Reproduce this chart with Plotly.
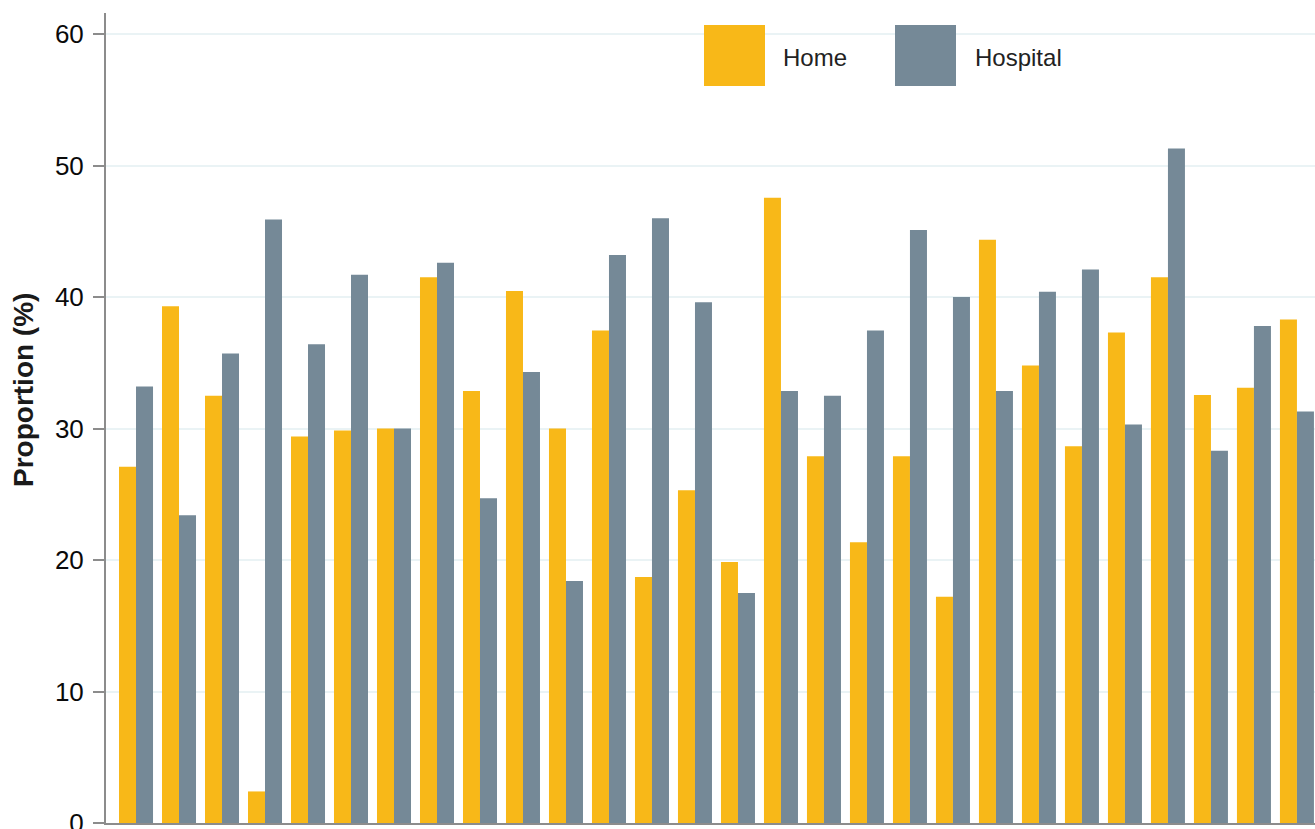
import plotly.graph_objects as go

# Proportion of deaths by place, 28 groups
groups = list(range(1, 29))
home = [27.1, 39.3, 32.5, 2.4, 29.4, 29.85, 30.0, 41.5, 32.85, 40.45,
        30.0, 37.45, 18.7, 25.3, 19.85, 47.55, 27.9, 21.35, 27.9, 17.2,
        44.35, 34.8, 28.65, 37.3, 41.5, 32.55, 33.1, 38.3]
hospital = [33.2, 23.4, 35.7, 45.9, 36.4, 41.7, 30.0, 42.6, 24.7, 34.3,
            18.4, 43.2, 46.0, 39.6, 17.5, 32.85, 32.5, 37.45, 45.1, 40.0,
            32.85, 40.4, 42.1, 30.3, 51.3, 28.3, 37.8, 31.3]
y_ticks = [0, 10, 20, 30, 40, 50, 60]

HOME_COLOR = "#F8B818"
HOSP_COLOR = "#758997"
FONT = "Liberation Sans, Arial, Helvetica, sans-serif"

W, H = 1315, 829
L, R, T, B = 106, 0, 13, 6
PW, PH = W - L - R, H - T - B


def px(x):
    return (x - L) / PW


def py(y):
    return (H - B - y) / PH


fig = go.Figure()
fig.add_bar(x=groups, y=home, name="Home", marker_color=HOME_COLOR,
            marker_line_width=0, showlegend=False)
fig.add_bar(x=groups, y=hospital, name="Hospital", marker_color=HOSP_COLOR,
            marker_line_width=0, showlegend=False)

# legend drawn as large swatches with labels
shapes = []
annotations = []
for label, color, x0, tx in [("Home", HOME_COLOR, 704, 781),
                             ("Hospital", HOSP_COLOR, 895, 973)]:
    shapes.append(dict(type="rect", xref="paper", yref="paper",
                       x0=px(x0), x1=px(x0 + 61), y0=py(86), y1=py(25),
                       fillcolor=color, line_width=0, layer="above"))
    annotations.append(dict(text=label, xref="paper", yref="paper",
                            x=px(tx), y=py(57), xanchor="left", yanchor="middle",
                            showarrow=False,
                            font=dict(family=FONT, size=24, color="#222222")))

annotations.append(dict(text="<b>Proportion (%)</b>", xref="paper", yref="paper",
                        x=px(23), y=py(390), xanchor="center", yanchor="middle",
                        textangle=-90, showarrow=False,
                        font=dict(family=FONT, size=28, color="#1a1a1a")))

fig.update_layout(
    width=W, height=H,
    margin=dict(l=L, r=R, t=T, b=B, pad=0, autoexpand=False),
    paper_bgcolor="white", plot_bgcolor="white",
    barmode="group", bargap=0.209, bargroupgap=0,
    shapes=shapes, annotations=annotations,
    showlegend=False,
    xaxis=dict(range=[0.302, 28.42], showticklabels=False, ticks="",
               showgrid=False, zeroline=False, showline=True,
               linecolor="#8c8c8c", linewidth=2, automargin=False),
    yaxis=dict(range=[0, 61.6], tickvals=y_ticks, ticks="outside",
               ticklen=11, tickwidth=2, tickcolor="#8c8c8c",
               showline=True, linecolor="#8c8c8c", linewidth=2,
               showgrid=True, gridcolor="#EAF3F5", gridwidth=2,
               zeroline=False, ticklabelstandoff=4, automargin=False,
               ticklabeloverflow="allow",
               tickfont=dict(family=FONT, size=26, color="#0a0a0a")),
)

fig.write_html("out.html")
